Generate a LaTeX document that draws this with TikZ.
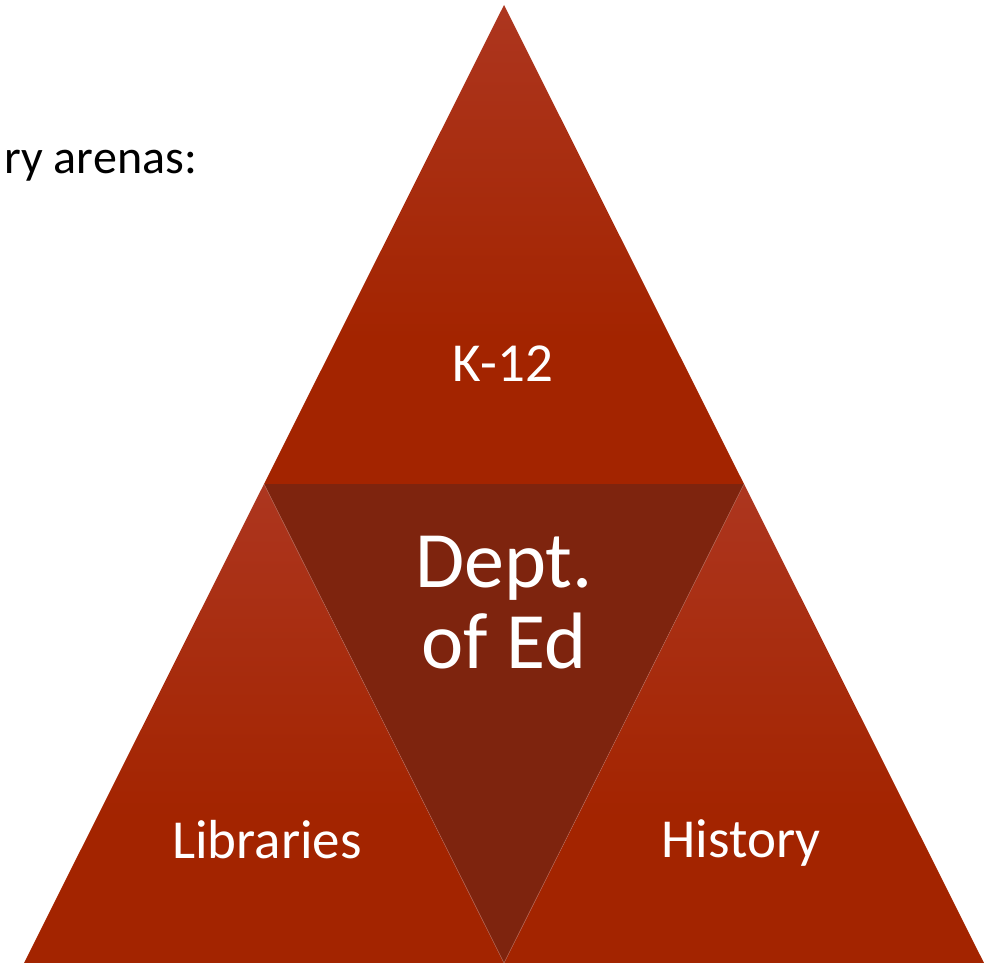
\documentclass[tikz,border=0pt]{standalone}
\usepackage{fontspec}
\setmainfont{Carlito}
\definecolor{triLight}{RGB}{182,80,66}
\definecolor{triMid}{RGB}{172,52,28}
\definecolor{triBase}{RGB}{163,36,0}
\definecolor{centerDark}{RGB}{126,36,14}
\definecolor{edgeLight}{RGB}{196,120,105}
\pgfdeclareverticalshading{trishade}{100bp}{color(0bp)=(triBase); color(40bp)=(triBase); color(72bp)=(triMid); color(100bp)=(triLight)}
\tikzset{
  tri/.style={shading=trishade},
  inner/.style={fill=centerDark},
  label/.style={text=white, inner sep=0pt},
  seam/.style={draw=edgeLight, line width=0.6pt, opacity=0.6},
}
\begin{document}
\begin{tikzpicture}[x=1pt,y=-1pt]
\useasboundingbox (0,0) rectangle (998,963);
\clip (0,0) rectangle (998,963);
% vertices
\coordinate (A) at (504,5);
\coordinate (L) at (264,484);
\coordinate (R) at (744,484);
\coordinate (BL) at (24,963);
\coordinate (BM) at (504,963);
\coordinate (BR) at (984,963);
% triangles
\path[tri] (A) -- (R) -- (L) -- cycle;
\path[tri] (L) -- (BM) -- (BL) -- cycle;
\path[tri] (R) -- (BR) -- (BM) -- cycle;
\path[inner] (L) -- (R) -- (BM) -- cycle;
\draw[seam] (L) -- (BM) -- (R);
% texts
\node[label, anchor=base, font=\fontsize{55}{66}\selectfont] (k12) at (503,381) {K-12};
\node[label, anchor=base, font=\fontsize{55}{66}\selectfont] (lib) at (267,858) {Libraries};
\node[label, anchor=base, font=\fontsize{55}{66}\selectfont] (hist) at (741,857) {History};
\node[label, anchor=base, font=\fontsize{80}{81}\selectfont] (dept) at (504,587)
  {\begin{tabular}[t]{@{}c@{}}Dept.\\of Ed\end{tabular}};
\node[anchor=base east, inner sep=0pt, font=\fontsize{48}{58}\selectfont] (arenas) at (197,173) {ry arenas:};
\end{tikzpicture}
\end{document}
